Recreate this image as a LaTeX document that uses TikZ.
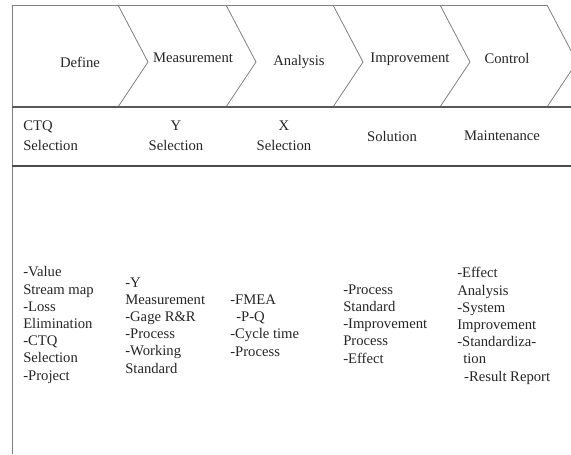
\documentclass[tikz,border=0pt]{standalone}
\usepackage{fontspec}
\setmainfont{Liberation Serif}
\begin{document}
\begin{tikzpicture}[x=0.75pt,y=-0.75pt,
  thinrule/.style={draw=black!50, line width=0.6pt},
  midrule/.style={draw=black!65, line width=1pt},
  boldrule/.style={draw=black!70, line width=1.4pt},
  lbl/.style={font=\fontsize{11}{15}\selectfont, text=black!85, inner sep=0pt},
  item/.style={lbl, font=\fontsize{11}{12.9}\selectfont, align=left, anchor=base west},
]
\useasboundingbox (0,0) rectangle (571,454);
\clip (0,0) rectangle (571,454);
\fill[white] (0,0) rectangle (571,454);

% frame: top edge and left edge
\draw[thinrule] (547,5) -- (12,5) -- (12,454);
% chevron dividers of the phase band
\foreach \x in {118,226,333,440,547}
  \draw[thinrule] (\x,5) -- (\x+30,62) -- (\x,107);
% horizontal rules
\draw[midrule] (12,107) -- (571,107);
\draw[boldrule] (12,166) -- (571,166);

% phase names
\node[lbl] (define)   at (80,62)  {Define};
\node[lbl] (measure)  at (193,58) {Measurement};
\node[lbl] (analysis) at (299,62) {Analysis};
\node[lbl] (improve)  at (410,59) {Improvement};
\node[lbl] (control)  at (507,58) {Control};

% selection row
\node[lbl, align=left, anchor=west] (ctq) at (23,136) {CTQ\\Selection};
\node[lbl, align=center] (ysel) at (176,136) {Y\\Selection};
\node[lbl, align=center] (xsel) at (284,136) {X\\Selection};
\node[lbl] (solution) at (392,136) {Solution};
\node[lbl] (maint)    at (502,136) {Maintenance};

% activity lists (anchored at the baseline of their last line)
\node[item] (defitems) at (23,380) {-Value\\Stream map\\-Loss\\Elimination\\-CTQ\\Selection\\-Project};
\node[item] (measitems) at (125,373) {-Y\\Measurement\\-Gage R\&R\\-Process\\-Working\\Standard};
\node[item] (anaitems) at (230,356) {-FMEA\\\hspace*{4.5pt}-P-Q\\-Cycle time\\-Process};
\node[item] (impitems) at (343,363) {-Process\\Standard\\-Improvement\\Process\\-Effect};
\node[item] (ctlitems) at (457,381) {-Effect\\Analysis\\-System\\Improvement\\-Standardiza-\\\hspace*{4.5pt}tion\\\hspace*{5.2pt}-Result Report};
\end{tikzpicture}
\end{document}
